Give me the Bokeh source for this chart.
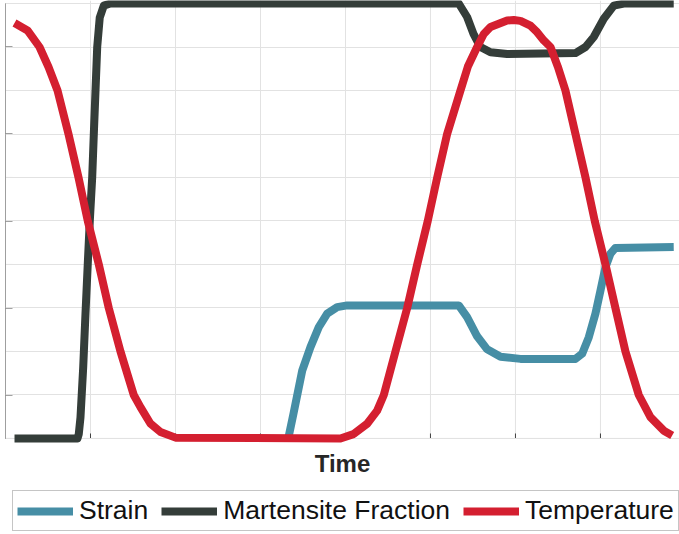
import math
from bokeh.plotting import figure
from bokeh.models import Range1d, FixedTicker, Legend, LegendItem, Grid, Label
from bokeh.embed import file_html
from bokeh.resources import INLINE

# ---- data (time in grid units, values normalised 0..1) ----
t_strain = [3.318, 3.329, 3.388, 3.491, 3.588, 3.686, 3.785, 3.902, 4.02, 5.333, 5.431,
            5.471, 5.549, 5.667, 5.824, 6.059, 6.706, 6.785, 6.863, 6.941, 7.0, 7.059,
            7.118, 7.176, 7.862]
v_strain = [0.0, 0.002, 0.057, 0.156, 0.21, 0.256, 0.287, 0.302, 0.306, 0.306, 0.279,
            0.264, 0.235, 0.205, 0.188, 0.183, 0.183, 0.195, 0.233, 0.287, 0.34, 0.394,
            0.425, 0.438, 0.44]

t_mart = [0.106, 0.847, 0.862, 0.882, 0.914, 0.941, 0.968, 0.992, 1.02, 1.039, 1.059,
          1.079, 1.109, 1.156, 1.235, 5.333, 5.431, 5.506, 5.588, 5.706, 5.902, 6.706,
          6.824, 6.921, 7.039, 7.157, 7.274, 7.862]
v_mart = [0.0, 0.0, 0.01, 0.048, 0.163, 0.287, 0.402, 0.501, 0.6, 0.7, 0.8,
          0.9, 0.968, 0.995, 1.0, 1.0, 0.969, 0.93, 0.9, 0.888, 0.884, 0.886,
          0.9, 0.923, 0.965, 0.995, 1.0, 1.0]

t_temp = [0.106, 0.259, 0.4, 0.506, 0.612, 0.741, 0.859, 0.968, 1.098, 1.215, 1.353,
          1.509, 1.588, 1.706, 1.824, 2.0, 3.941, 4.094, 4.255, 4.373, 4.451, 4.588,
          4.726, 4.844, 4.968, 5.079, 5.196, 5.353, 5.44, 5.549, 5.627, 5.706, 5.902,
          5.98, 6.059, 6.176, 6.255, 6.333, 6.412, 6.498, 6.588, 6.706, 6.824, 6.933,
          7.059, 7.176, 7.294, 7.451, 7.588, 7.745, 7.844]
v_temp = [0.955, 0.938, 0.9, 0.854, 0.8, 0.7, 0.6, 0.5, 0.4, 0.3, 0.2,
          0.1, 0.072, 0.034, 0.015, 0.002, 0.0, 0.01, 0.034, 0.064, 0.1, 0.2,
          0.3, 0.4, 0.5, 0.6, 0.7, 0.8, 0.855, 0.9, 0.93, 0.946, 0.961,
          0.962, 0.96, 0.949, 0.934, 0.915, 0.9, 0.855, 0.8, 0.7, 0.6, 0.5,
          0.4, 0.3, 0.2, 0.1, 0.049, 0.018, 0.007]

x_ticks = [1, 2, 3, 4, 5, 6, 7]
y_ticks = [0.0, 0.1, 0.2, 0.3, 0.4, 0.5, 0.6, 0.7, 0.8, 0.9, 1.0]
labels = ["Strain", "Martensite Fraction", "Temperature"]
colors = ["#468ea5", "#343d39", "#d41f30"]
x_label = "Time"

X_MAX = 7.93
Y_TOP = 1.0069
Y_BOT = -0.2207

p = figure(width=679, height=534, output_backend="svg", toolbar_location=None,
           x_range=Range1d(0, X_MAX), y_range=Range1d(Y_BOT, Y_TOP),
           x_axis_type=None, y_axis_type=None,
           min_border_left=5, min_border_right=0, min_border_top=0, min_border_bottom=0)
p.outline_line_color = None
p.background_fill_color = "white"
p.border_fill_color = "white"

axis_col = "#404040"
grid_col = "#e2e2e2"

# grid: horizontal lines across the full width, vertical lines only over the data area
p.add_layout(Grid(dimension=1, ticker=FixedTicker(ticks=y_ticks),
                  grid_line_color=grid_col, grid_line_width=1))
p.segment(x0=x_ticks, y0=[0] * len(x_ticks), x1=x_ticks, y1=[Y_TOP] * len(x_ticks),
          line_color=grid_col, line_width=1, level="underlay")

# axis lines and inward ticks
p.segment(x0=[0, 0], y0=[0, 0], x1=[X_MAX, 0], y1=[0, 1.0],
          line_color=axis_col, line_width=1, level="underlay")
p.ray(x=x_ticks, y=[0] * len(x_ticks), length=5, length_units="screen",
      angle=math.pi / 2, line_color=axis_col, line_width=1, level="underlay")
p.ray(x=[0] * len(y_ticks), y=y_ticks, length=7, length_units="screen",
      angle=0, line_color=axis_col, line_width=1, level="underlay")

r_s = p.line(t_strain, v_strain, line_color=colors[0], line_width=8, line_join="round")
r_m = p.line(t_mart, v_mart, line_color=colors[1], line_width=8, line_join="round")
r_t = p.line(t_temp, v_temp, line_color=colors[2], line_width=8, line_join="round")

p.add_layout(Label(x=X_MAX / 2, y=-0.0575, text=x_label, text_align="center",
                   text_baseline="middle", text_font="Liberation Sans",
                   text_font_style="bold", text_font_size="24px", text_color="#262626"))

legend = Legend(items=[LegendItem(label=labels[0], renderers=[r_s]),
                       LegendItem(label=labels[1], renderers=[r_m]),
                       LegendItem(label=labels[2], renderers=[r_t])],
                orientation="horizontal", location=(7, 3),
                label_text_font="Liberation Sans", label_text_font_size="26.5px",
                label_text_color="#111111",
                glyph_width=56, glyph_height=30, label_height=30, label_standoff=6,
                spacing=13, padding=4, margin=0,
                border_line_color="#8c8c8c", border_line_width=1,
                background_fill_color="white")
p.add_layout(legend, "center")

open("out.html", "w").write(file_html(p, INLINE))
